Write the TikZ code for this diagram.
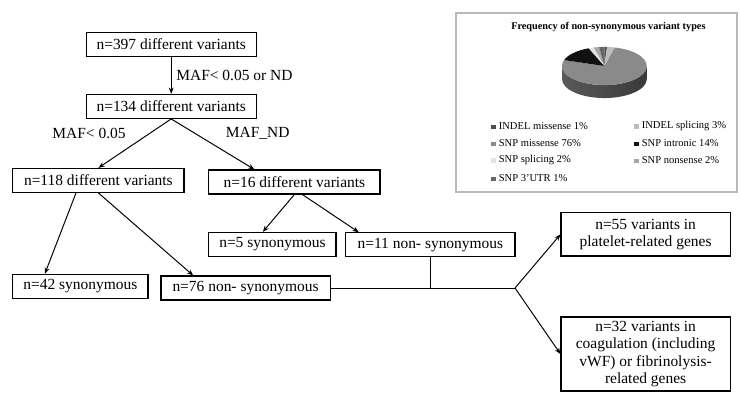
\documentclass[tikz,border=0pt]{standalone}
\usepackage{fontspec}
\setmainfont{Liberation Serif}
\usepackage{xcolor}
\usepackage{tikz}
\usetikzlibrary{positioning,arrows.meta}

\definecolor{indelmis}{HTML}{4D4D4D}
\definecolor{indelspl}{HTML}{BDBDBD}
\definecolor{snpmis}{HTML}{8A8A8A}
\definecolor{snpintr}{HTML}{111111}
\definecolor{snpspl}{HTML}{E3E3E3}
\definecolor{snpnon}{HTML}{A6A6A6}
\definecolor{snputr}{HTML}{666666}

\begin{document}
\begin{tikzpicture}[
    box/.style={rectangle, draw, line width=0.75pt, inner sep=2pt, align=center, minimum width=4.25cm, minimum height=0.6cm, font=\fontsize{11}{12.5}\selectfont},
    arrow/.style={-{Stealth[length=4.5pt,width=3.5pt]}, line width=0.7pt},
    link/.style={line width=0.7pt},
    lbl/.style={font=\fontsize{11}{13}\selectfont},
    legend/.style={anchor=west, inner sep=0pt, font=\fontsize{7.5}{9}\selectfont}
]
\useasboundingbox (0,0) rectangle (18.5,9.8);

% Filtering steps
\node[box] (n397) at (4.28,8.69) {n=397 different variants};
\node[box] (n134) at (4.28,7.14) {n=134 different variants};
\node[box, minimum width=4.28cm] (n118) at (2.46,5.29) {n=118 different variants};
\node[box, minimum width=4.28cm] (n16) at (7.36,5.25) {n=16 different variants};

% Synonymous / non-synonymous
\node[box, minimum width=3.18cm] (n5) at (6.81,3.69) {n=5 synonymous};
\node[box, minimum width=4.23cm] (n11) at (10.76,3.68) {n=11 non- synonymous};
\node[box, minimum width=3.38cm] (n42) at (2.01,2.64) {n=42 synonymous};
\node[box, minimum width=4.23cm] (n76) at (6.14,2.6) {n=76 non- synonymous};

% Gene groups
\node[box, minimum width=4.23cm, minimum height=1.08cm] (n55) at (16.14,3.94) {n=55 variants in\\platelet-related genes};
\node[box, minimum width=4.23cm, minimum height=1.85cm] (n32) at (16.14,0.95) {n=32 variants in\\coagulation (including\\vWF) or fibrinolysis-\\related genes};

% Arrows
\draw[arrow] (n397) -- (n134) node[midway, right, lbl] {MAF< 0.05 or ND};
\draw[arrow] (n134.south) -- (n118.north) node[midway, above left, lbl, xshift=-0.1cm] {MAF< 0.05};
\draw[arrow] (n134.south) -- ([xshift=-1cm]n16.north) node[midway, above right, lbl, xshift=0.2cm] {MAF\_ND};
\draw[arrow] ([xshift=-0.56cm]n118.south) -- ([xshift=-0.89cm]n42.north);
\draw[arrow] (n118.south) -- ([xshift=-1.31cm]n76.north);
\draw[arrow] (n16.south) -- ([xshift=-0.24cm]n5.north);
\draw[arrow] ([xshift=0.2cm]n16.south) -- ([xshift=-1.79cm]n11.north);

% Merge and split
\coordinate (split) at (12.875,2.6);
\draw[link] (n76.east) -- (split);
\draw[link] (n11.south) -- (n11.south |- split);
\draw[arrow] (split) -- (n55.west);
\draw[arrow] (split) -- (n32.west);

% Pie chart panel
\node[draw=gray!55, line width=1pt, minimum width=7.025cm, minimum height=4.475cm] (chart) at (14.91,7.24) {};
\node[font=\bfseries\fontsize{7.3}{9}\selectfont] (title) at (15.21,9.125) {Frequency of non-synonymous variant types};

\begin{scope}[shift={(15.11,8.15)}, yscale=0.45]
\shade[left color=gray!70!black, right color=gray!45!black] (180:1.06) arc[start angle=180, end angle=360, radius=1.06] -- ++(0,-0.72) arc[start angle=360, end angle=180, radius=1.06] -- cycle;
\fill[indelmis] (0,0) -- (90:1.06) arc[start angle=90, end angle=86.4, radius=1.06] -- cycle;
\fill[indelspl] (0,0) -- (86.4:1.06) arc[start angle=86.4, end angle=75.6, radius=1.06] -- cycle;
\fill[snpmis] (0,0) -- (75.6:1.06) arc[start angle=75.6, end angle=-198, radius=1.06] -- cycle;
\fill[snpintr] (0,0) -- (-198:1.06) arc[start angle=-198, end angle=-248.4, radius=1.06] -- cycle;
\fill[snpspl] (0,0) -- (-248.4:1.06) arc[start angle=-248.4, end angle=-255.6, radius=1.06] -- cycle;
\fill[snpnon] (0,0) -- (-255.6:1.06) arc[start angle=-255.6, end angle=-262.8, radius=1.06] -- cycle;
\fill[snputr] (0,0) -- (-262.8:1.06) arc[start angle=-262.8, end angle=-270, radius=1.06] -- cycle;
\end{scope}

% Legend
\node[legend] (lg1) at (12.275,6.65) {\textcolor{indelmis}{\rule{3.5pt}{3.5pt}}\ INDEL missense 1\%};
\node[legend] (lg2) at (15.85,6.65) {\textcolor{indelspl}{\rule{3.5pt}{3.5pt}}\ INDEL splicing 3\%};
\node[legend] (lg3) at (12.275,6.225) {\textcolor{snpmis}{\rule{3.5pt}{3.5pt}}\ SNP missense 76\%};
\node[legend] (lg4) at (15.85,6.225) {\textcolor{snpintr}{\rule{3.5pt}{3.5pt}}\ SNP intronic 14\%};
\node[legend] (lg5) at (12.275,5.8) {\textcolor{snpspl}{\rule{3.5pt}{3.5pt}}\ SNP splicing 2\%};
\node[legend] (lg6) at (15.85,5.8) {\textcolor{snpnon}{\rule{3.5pt}{3.5pt}}\ SNP nonsense 2\%};
\node[legend] (lg7) at (12.275,5.35) {\textcolor{snputr}{\rule{3.5pt}{3.5pt}}\ SNP 3’UTR 1\%};

\end{tikzpicture}
\end{document}
